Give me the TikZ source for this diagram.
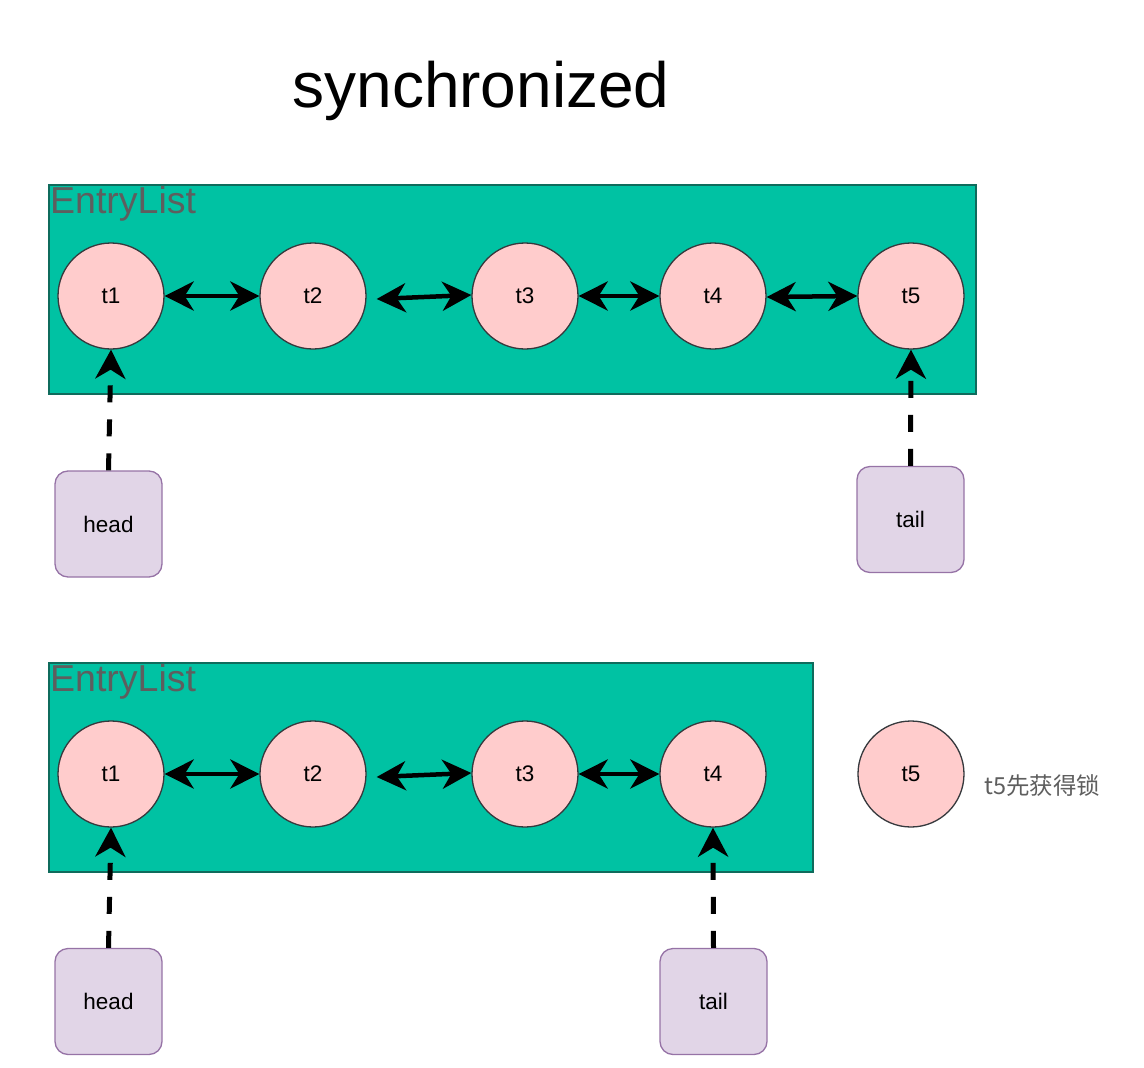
\documentclass[tikz,border=0pt]{standalone}
\usepackage{fontspec}
\setmainfont{Liberation Sans}
\newfontfamily\cjk{Noto Sans CJK SC}
\usetikzlibrary{arrows.meta,calc}
\definecolor{listfill}{HTML}{00C2A3}
\definecolor{listdraw}{HTML}{0F6B5C}
\definecolor{thfill}{HTML}{FFCCCC}
\definecolor{thdraw}{HTML}{36393D}
\definecolor{ptrfill}{HTML}{E1D5E7}
\definecolor{ptrdraw}{HTML}{9673A6}
\definecolor{labgray}{HTML}{5E5E5E}
\tikzset{
  listbox/.style={draw=listdraw, fill=listfill, line width=1.5pt},
  thread/.style={circle, draw=thdraw, fill=thfill, line width=1.3pt, minimum size=106pt, inner sep=0pt, font=\fontsize{22.5}{26}\selectfont},
  ptr/.style={rectangle, rounded corners=13pt, draw=ptrdraw, fill=ptrfill, line width=1.3pt, minimum width=107pt, minimum height=106pt, inner sep=0pt, font=\fontsize{22.5}{26}\selectfont},
  listlabel/.style={anchor=base west, inner sep=0pt, text=labgray, font=\fontsize{37.5}{40}\selectfont},
  link/.style={line width=4.5pt, {Stealth[length=29pt,width=29pt,inset=9pt]}-{Stealth[length=29pt,width=29pt,inset=9pt]}},
  pointer/.style={line width=5pt, dash pattern=on 17pt off 17pt, -{Stealth[length=29pt,width=30pt,inset=9pt]}}
}
\begin{document}
\begin{tikzpicture}[x=1pt,y=-1pt]
\useasboundingbox (0,0) rectangle (1144,1068);
\node[anchor=base, inner sep=0pt, font=\fontsize{64}{70}\selectfont] (title) at (481,107) {synchronized};

% ---- top list
\draw[listbox] (49,185) rectangle (976,394);
\node[listlabel] (lab1) at (50,213.5) {EntryList};
\node[thread] (a1) at (111,296) {t1};
\node[thread] (a2) at (313,296) {t2};
\node[thread] (a3) at (525,296) {t3};
\node[thread] (a4) at (713,296) {t4};
\node[thread] (a5) at (911,296) {t5};
\draw[link] (a1.east) -- (a2.west);
\draw[link] ($(a2.east)+(10,3)$) -- ($(a3.west)+(0,-1)$);
\draw[link] (a3.east) -- (a4.west);
\draw[link] ($(a4.east)+(0,1)$) -- (a5.west);
\node[ptr] (h1) at (108.5,524) {head};
\node[ptr] (tl1) at (910.5,519.5) {tail};
\draw[pointer] (h1.north) -- (a1.south);
\draw[pointer] (tl1.north) -- (a5.south);

% ---- bottom list
\draw[listbox] (49,663) rectangle (813,872);
\node[listlabel] (lab2) at (50,691.5) {EntryList};
\node[thread] (b1) at (111,774) {t1};
\node[thread] (b2) at (313,774) {t2};
\node[thread] (b3) at (525,774) {t3};
\node[thread] (b4) at (713,774) {t4};
\node[thread] (b5) at (911,774) {t5};
\draw[link] (b1.east) -- (b2.west);
\draw[link] ($(b2.east)+(10,3)$) -- ($(b3.west)+(0,-1)$);
\draw[link] (b3.east) -- (b4.west);
\node[anchor=west, inner sep=0pt, text=labgray, font=\fontsize{23.5}{27}\selectfont] (note) at (984,786) {\cjk t5先获得锁};
\node[ptr] (h2) at (108.5,1001.5) {head};
\node[ptr] (tl2) at (713.5,1001.5) {tail};
\draw[pointer] (h2.north) -- (b1.south);
\draw[pointer] (tl2.north) -- (b4.south);
\end{tikzpicture}
\end{document}
